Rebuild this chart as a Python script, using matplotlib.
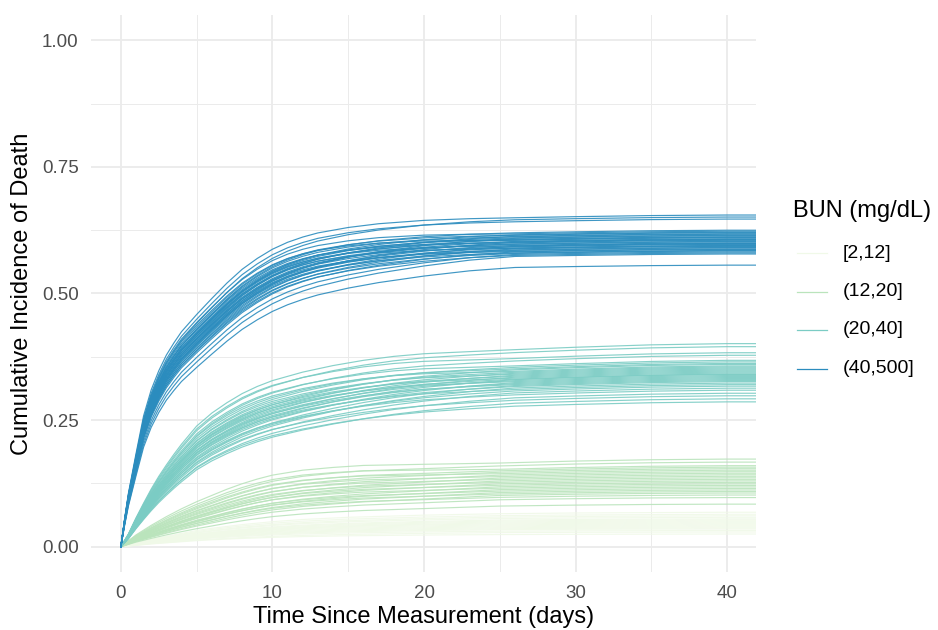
"""BUN 群ごとの死亡累積発生率 (反復曲線) の作図."""

import numpy as np
import matplotlib.pyplot as plt
from matplotlib.lines import Line2D

GROUPS = ['[2,12]', '(12,20]', '(20,40]', '(40,500]']
COLORS = ['#f0f9e8', '#bae4bc', '#7bccc4', '#2b8cbe']

# 群ごとの代表曲線 (日数, 累積発生率)
pale_t = [0, 1, 2, 3, 4, 5, 6, 8, 10, 12, 15, 20, 25, 30, 40]
pale_v = [0, 0.005, 0.010, 0.014, 0.018, 0.022, 0.025, 0.030, 0.034, 0.037,
          0.040, 0.043, 0.045, 0.046, 0.047]

green_t = [0, 0.5, 1, 2, 3, 4, 5, 6, 7, 8, 9, 10, 12, 14, 16, 20, 25, 30,
           35, 40]
green_v = [0, 0.008, 0.016, 0.029, 0.041, 0.052, 0.062, 0.071, 0.080, 0.088,
           0.095, 0.101, 0.109, 0.114, 0.118, 0.122, 0.127, 0.130, 0.132,
           0.133]

teal_t = [0, 0.5, 1, 1.5, 2, 2.5, 3, 3.5, 4, 5, 6, 7, 8, 9, 10, 12, 14, 16,
          18, 20, 23, 26, 30, 35, 40]
teal_v = [0, 0.020, 0.045, 0.068, 0.090, 0.110, 0.128, 0.145, 0.161, 0.190,
          0.211, 0.228, 0.243, 0.255, 0.265, 0.280, 0.292, 0.302, 0.310,
          0.316, 0.322, 0.327, 0.331, 0.335, 0.337]

blue_t = [0, 0.25, 0.5, 0.75, 1, 1.5, 2, 2.5, 3, 3.5, 4, 5, 6, 7, 8, 9, 10,
          11, 12, 13, 15, 17, 20, 23, 26, 30, 35, 40]
blue_v = [0, 0.050, 0.095, 0.130, 0.165, 0.232, 0.278, 0.312, 0.340, 0.362,
          0.382, 0.413, 0.442, 0.470, 0.495, 0.515, 0.532, 0.545, 0.555,
          0.563, 0.574, 0.582, 0.590, 0.595, 0.598, 0.600, 0.602, 0.603]

# 各反復曲線の 5 日時点の値
pale_d5 = [0.032, 0.030, 0.028, 0.027, 0.025, 0.024, 0.023, 0.022, 0.022,
           0.021, 0.020, 0.019, 0.018, 0.017, 0.016, 0.015, 0.013, 0.012]
green_d5 = [0.090, 0.080, 0.085, 0.075, 0.070, 0.078, 0.065, 0.072, 0.060,
            0.068, 0.058, 0.064, 0.055, 0.060, 0.050, 0.057, 0.048, 0.052,
            0.045, 0.050, 0.042, 0.046, 0.040, 0.035]
teal_d5 = [0.240, 0.230, 0.235, 0.220, 0.225, 0.210, 0.215, 0.200, 0.220,
           0.205, 0.195, 0.210, 0.190, 0.200, 0.185, 0.205, 0.195, 0.180,
           0.190, 0.200, 0.175, 0.185, 0.190, 0.170, 0.180, 0.165, 0.185,
           0.170, 0.160, 0.175, 0.155, 0.165, 0.150, 0.155]
blue_d5 = [0.460, 0.440, 0.450, 0.430, 0.445, 0.420, 0.435, 0.410, 0.430,
           0.420, 0.400, 0.425, 0.415, 0.440, 0.405, 0.420, 0.395, 0.430,
           0.410, 0.415, 0.400, 0.425, 0.390, 0.410, 0.400, 0.420, 0.385,
           0.405, 0.395, 0.410, 0.380, 0.400, 0.390, 0.370, 0.385, 0.360,
           0.350]

# 各反復曲線の最終到達値
pale_end = [0.068, 0.064, 0.061, 0.058, 0.055, 0.053, 0.051, 0.049, 0.047,
            0.045, 0.043, 0.041, 0.039, 0.037, 0.035, 0.032, 0.029, 0.025]
green_end = [0.173, 0.167, 0.160, 0.157, 0.154, 0.151, 0.148, 0.145, 0.142,
             0.139, 0.136, 0.133, 0.130, 0.127, 0.124, 0.121, 0.118, 0.115,
             0.112, 0.109, 0.106, 0.102, 0.097, 0.084]
teal_end = [0.401, 0.395, 0.383, 0.378, 0.368, 0.365, 0.362, 0.360, 0.357,
            0.355, 0.353, 0.351, 0.349, 0.347, 0.345, 0.343, 0.341, 0.340,
            0.338, 0.336, 0.334, 0.332, 0.330, 0.328, 0.326, 0.323, 0.320,
            0.317, 0.313, 0.309, 0.303, 0.298, 0.292, 0.286]
blue_end = [0.655, 0.651, 0.647, 0.625, 0.623, 0.621, 0.620, 0.618, 0.617,
            0.615, 0.614, 0.612, 0.611, 0.610, 0.608, 0.607, 0.606, 0.605,
            0.603, 0.602, 0.600, 0.599, 0.598, 0.597, 0.595, 0.594, 0.593,
            0.591, 0.590, 0.588, 0.587, 0.585, 0.584, 0.582, 0.580, 0.578,
            0.556]


def _curve(t, v, d5, end):
    # 代表曲線を、序盤は 5 日値、終盤は最終値に合わせて伸縮する
    t = np.append(t, 45.0)
    v = np.append(v, v[-1])
    r5 = d5 / np.interp(5, t, v)
    r_end = end / v[-1]
    ratio = np.interp(t, [2, 25], [r5, r_end])
    return t, v * ratio


def main():
    """メイン関数."""
    plt.rcParams['font.family'] = ['Liberation Sans', 'DejaVu Sans']
    W, H = 938, 630
    fig = plt.figure(figsize=(W / 100, H / 100), dpi=100)
    ax = fig.add_axes([91 / W, 1 - 572 / H, (756 - 91) / W, (572 - 15) / H])

    curves = [(pale_t, pale_v, pale_d5, pale_end),
              (green_t, green_v, green_d5, green_end),
              (teal_t, teal_v, teal_d5, teal_end),
              (blue_t, blue_v, blue_d5, blue_end)]
    for (t, v, d5s, ends), color in zip(curves, COLORS):
        for d5, e in zip(d5s, ends):
            x, y = _curve(t, v, d5, e)
            ax.plot(x, y, color=color, lw=0.85, alpha=0.9, zorder=3)

    ax.set_xlim(-1.97, 41.9)
    ax.set_ylim(-0.05, 1.05)
    ax.set_xticks([0, 10, 20, 30, 40])
    ax.set_xticks([5, 15, 25, 35], minor=True)
    ax.set_yticks([0, 0.25, 0.5, 0.75, 1.0])
    ax.set_yticklabels(['0.00', '0.25', '0.50', '0.75', '1.00'])
    ax.set_yticks([0.125, 0.375, 0.625, 0.875], minor=True)
    ax.grid(which='major', color='#ebebeb', lw=1.3)
    ax.grid(which='minor', color='#ebebeb', lw=0.7)
    ax.set_axisbelow(True)
    for s in ax.spines.values():
        s.set_visible(False)
    ax.tick_params(which='both', length=0, labelsize=13.5,
                   labelcolor='#4d4d4d', pad=9)

    ax.set_xlabel('Time Since Measurement (days)', fontsize=17, labelpad=3)
    ax.set_ylabel('Cumulative Incidence of Death', fontsize=17, labelpad=6)

    # 凡例
    fig.text(793 / W, 1 - 211 / H, 'BUN (mg/dL)', fontsize=17,
             va='center', ha='left')
    for i, (name, color) in enumerate(zip(GROUPS, COLORS)):
        y = 1 - (253 + 38.5 * i) / H
        fig.add_artist(Line2D([797 / W, 827 / W], [y, y], color=color,
                              lw=0.9))
        fig.text(843 / W, y, name, fontsize=14, va='center', ha='left')

    fig.savefig('out.png', dpi=100)


if __name__ == "__main__":
    main()
